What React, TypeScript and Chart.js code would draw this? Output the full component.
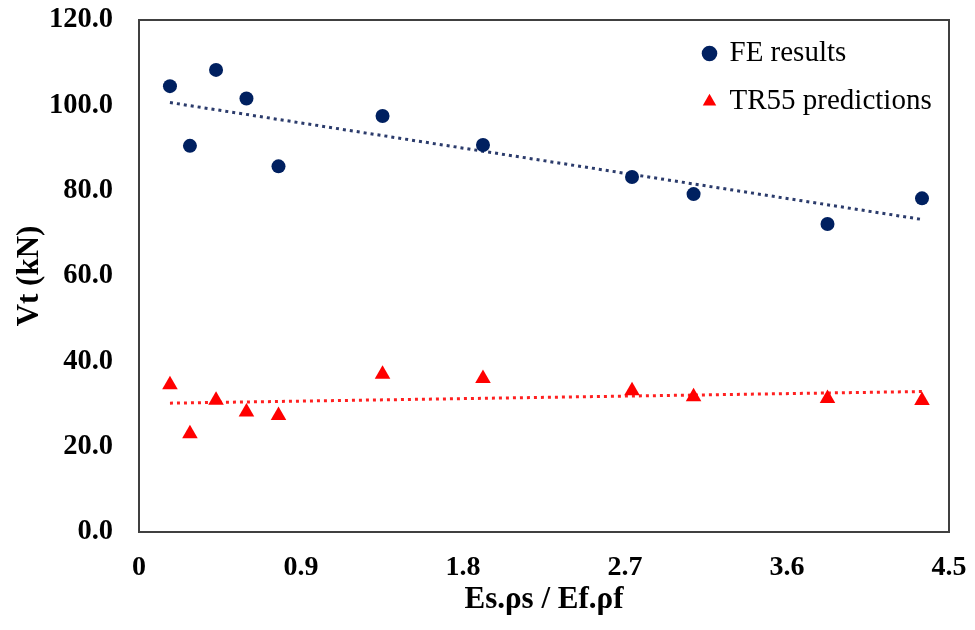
import React, { useEffect, useRef } from 'react';
import { Chart, registerables } from 'chart.js';

Chart.register(...registerables);

// ---- Data ----
const ratios = [0.172, 0.283, 0.428, 0.597, 0.775, 1.353, 1.911, 2.739, 3.081, 3.825, 4.35];
const feResults = [104.5, 90.5, 108.3, 101.6, 85.7, 97.5, 90.7, 83.2, 79.2, 72.2, 78.2];
const tr55Predictions = [34.5, 23.0, 30.9, 28.1, 27.3, 37.0, 36.0, 33.1, 31.7, 31.3, 30.8];
const xTicks = [0, 0.9, 1.8, 2.7, 3.6, 4.5];
const xTickLabels = ['0', '0.9', '1.8', '2.7', '3.6', '4.5'];
const yTicks = [0, 20, 40, 60, 80, 100, 120];
const yTickLabels = ['0.0', '20.0', '40.0', '60.0', '80.0', '100.0', '120.0'];
const seriesNames = ['FE results', 'TR55 predictions'];

const FONT = "'Liberation Serif', 'Times New Roman', serif";

function linearFit(xs: number[], ys: number[]) {
  const n = xs.length;
  const mx = xs.reduce((a, b) => a + b, 0) / n;
  const my = ys.reduce((a, b) => a + b, 0) / n;
  let sxy = 0, sxx = 0;
  for (let i = 0; i < n; i++) {
    sxy += (xs[i] - mx) * (ys[i] - my);
    sxx += (xs[i] - mx) * (xs[i] - mx);
  }
  const slope = sxy / sxx;
  const icpt = my - slope * mx;
  const x0 = Math.min(...xs);
  const x1 = Math.max(...xs);
  return [
    { x: x0, y: icpt + slope * x0 },
    { x: x1, y: icpt + slope * x1 },
  ];
}

const frame = {
  id: 'frame',
  afterDatasetsDraw(chart: any) {
    const { ctx, chartArea: a } = chart;
    ctx.save();
    ctx.strokeStyle = '#404040';
    ctx.lineWidth = 2;
    ctx.strokeRect(a.left, a.top, a.right - a.left, a.bottom - a.top);
    ctx.restore();
  },
};

const legendPlacer = {
  id: 'legendPlacer',
  afterLayout(chart: any) {
    const lg = chart.legend;
    const a = chart.chartArea;
    if (!lg) return;
    const w = lg.width;
    lg.left = a.left + 546;
    lg.top = a.top;
    lg.right = lg.left + w;
    lg.bottom = lg.top + 400;
  },
};

function zeroPadding(s: any) {
  s.paddingTop = 0;
  s.paddingBottom = 0;
  s.paddingLeft = 0;
  s.paddingRight = 0;
}

export default function App() {
  const ref = useRef<HTMLCanvasElement | null>(null);

  useEffect(() => {
    if (!ref.current) return;
    const fe = ratios.map((x, i) => ({ x, y: feResults[i] }));
    const tr = ratios.map((x, i) => ({ x, y: tr55Predictions[i] }));
    const chart = new Chart(ref.current, {
      type: 'scatter',
      data: {
        datasets: [
          {
            label: seriesNames[0],
            data: fe,
            pointStyle: 'circle',
            pointRadius: 7,
            pointHoverRadius: 7,
            backgroundColor: '#002060',
            borderColor: '#002060',
            borderWidth: 0,
          },
          {
            label: seriesNames[1],
            data: tr,
            pointStyle: 'triangle',
            pointRadius: 9,
            pointHoverRadius: 9,
            backgroundColor: '#FF0000',
            borderColor: '#FF0000',
            borderWidth: 0,
          },
          {
            label: 'FE trend',
            data: linearFit(ratios, feResults),
            showLine: true,
            pointRadius: 0,
            borderColor: '#2B3B6B',
            borderWidth: 3,
            borderDash: [3, 4],
            borderCapStyle: 'butt',
          },
          {
            label: 'TR55 trend',
            data: linearFit(ratios, tr55Predictions),
            showLine: true,
            pointRadius: 0,
            borderColor: '#FF2020',
            borderWidth: 3,
            borderDash: [3, 4],
            borderCapStyle: 'butt',
          },
        ],
      },
      options: {
        animation: false,
        responsive: false,
        devicePixelRatio: 1,
        layout: { padding: { left: 0, right: 26, top: 20, bottom: 0 } },
        plugins: {
          tooltip: { enabled: false },
          legend: {
            position: 'chartArea' as any,
            align: 'start',
            labels: {
              filter: (item: any) => item.datasetIndex < 2,
              usePointStyle: true,
              boxWidth: 11,
              boxHeight: 11,
              padding: 19,
              color: '#000000',
              font: { family: FONT, size: 29, weight: 'normal' },
            },
          },
        },
        scales: {
          x: {
            type: 'linear',
            min: 0,
            max: 4.5,
            grid: { display: false, drawTicks: false },
            border: { display: false },
            afterFit: (s: any) => { s.height = 98; zeroPadding(s); },
            afterBuildTicks: (s: any) => { s.ticks = xTicks.map((v) => ({ value: v })); },
            ticks: {
              padding: 19,
              color: '#000000',
              font: { family: FONT, size: 28, weight: 'bold' },
              maxRotation: 0,
              callback: (v: any) => {
                const i = xTicks.findIndex((t) => Math.abs(t - v) < 1e-6);
                return i >= 0 ? xTickLabels[i] : '';
              },
            },
            title: {
              display: true,
              text: 'Es.ρs / Ef.ρf',
              color: '#000000',
              font: { family: FONT, size: 31, weight: 'bold' },
              padding: { top: 11, bottom: 11 },
            },
          },
          y: {
            type: 'linear',
            min: 0,
            max: 120,
            grid: { display: false, drawTicks: false },
            border: { display: false },
            afterFit: (s: any) => { s.width = 139; zeroPadding(s); },
            afterBuildTicks: (s: any) => { s.ticks = yTicks.map((v) => ({ value: v })); },
            ticks: {
              padding: 26,
              color: '#000000',
              font: { family: FONT, size: 28.5, weight: 'bold' },
              callback: (v: any) => {
                const i = yTicks.findIndex((t) => Math.abs(t - v) < 1e-6);
                return i >= 0 ? yTickLabels[i] : '';
              },
            },
            title: {
              display: true,
              text: 'Vt (kN)',
              color: '#000000',
              font: { family: FONT, size: 31, weight: 'bold' },
              padding: { top: 11, bottom: 11 },
            },
          },
        },
      },
      plugins: [frame, legendPlacer],
    });
    return () => chart.destroy();
  }, []);

  return (
    <div style={{ position: 'absolute', left: 0, top: 0, width: 975, height: 630, background: '#ffffff' }}>
      <canvas ref={ref} width={975} height={630} style={{ display: 'block' }} />
    </div>
  );
}
